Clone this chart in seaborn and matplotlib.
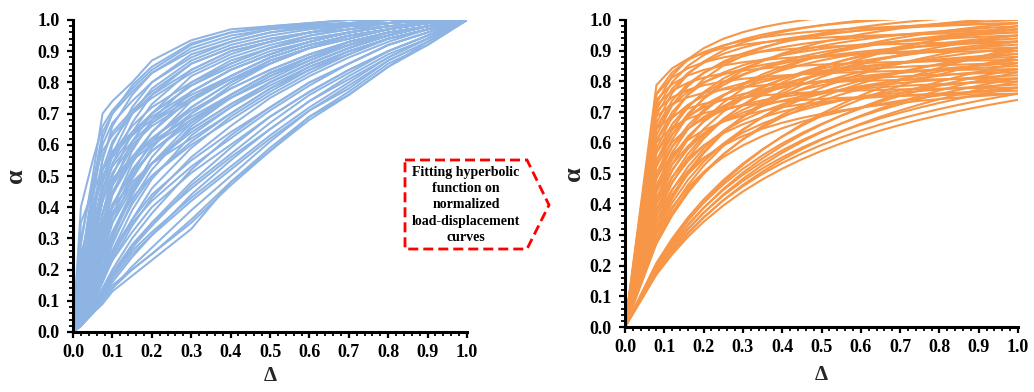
import numpy as np
import pandas as pd
import matplotlib
matplotlib.use("Agg")
import matplotlib.pyplot as plt
from matplotlib.ticker import MultipleLocator, FormatStrFormatter
from matplotlib.patches import Polygon
import seaborn as sns

# Normalized displacement positions at which each measured curve is sampled
delta_grid = [0, .02, .05, .075, .1, .15, .2, .3, .4, .5, .6, .7, .8, .9, 1.0]

# Normalized load-displacement curves (alpha values at delta_grid)
measured_curves = [
    [0, .28, .50, .70, .74, .80, .87, .935, .97, .98, .99, 1, 1, 1, 1],
    [0, .40, .55, .66, .71, .78, .84, .92, .96, .98, .99, 1, 1, 1, 1],
    [0, .18, .42, .62, .70, .79, .85, .925, .96, .975, .985, .99, 1, 1, 1],
    [0, .20, .47, .64, .70, .77, .83, .91, .95, .97, .985, .99, 1, 1, 1],
    [0, .12, .35, .55, .66, .76, .83, .90, .94, .97, .98, .99, 1, 1, 1],
    [0, .25, .38, .50, .56, .64, .70, .79, .86, .91, .95, .97, .99, 1, 1],
    [0, .22, .45, .60, .67, .74, .80, .88, .93, .96, .98, .99, .99, 1, 1],
    [0, .10, .30, .48, .60, .72, .80, .89, .93, .96, .975, .985, .99, 1, 1],
    [0, .09, .28, .45, .57, .70, .78, .87, .92, .95, .97, .98, .99, 1, 1],
    [0, .15, .38, .56, .64, .71, .77, .86, .91, .94, .96, .98, .99, 1, 1],
    [0, .14, .36, .52, .61, .70, .76, .84, .90, .93, .96, .98, .99, 1, 1],
    [0, .08, .26, .42, .54, .67, .76, .86, .91, .94, .96, .98, .99, 1, 1],
    [0, .30, .48, .58, .63, .70, .75, .83, .89, .93, .96, .98, .99, 1, 1],
    [0, .06, .22, .38, .50, .64, .73, .84, .90, .93, .96, .97, .99, .995, 1],
    [0, .05, .20, .35, .47, .61, .70, .82, .88, .92, .95, .97, .98, .99, 1],
    [0, .12, .32, .48, .57, .66, .72, .80, .86, .91, .94, .96, .98, .99, 1],
    [0, .11, .30, .45, .54, .63, .70, .79, .85, .90, .93, .96, .98, .99, 1],
    [0, .05, .18, .32, .44, .58, .68, .80, .87, .91, .94, .96, .98, .99, 1],
    [0, .20, .40, .52, .58, .64, .69, .77, .84, .89, .93, .96, .98, .99, 1],
    [0, .08, .24, .38, .48, .59, .67, .77, .84, .89, .93, .96, .98, .99, 1],
    [0, .04, .15, .28, .40, .54, .64, .77, .84, .89, .93, .96, .98, .99, 1],
    [0, .07, .21, .35, .45, .56, .64, .75, .82, .88, .92, .95, .97, .99, 1],
    [0, .16, .34, .46, .53, .61, .67, .75, .81, .86, .91, .94, .97, .99, 1],
    [0, .10, .28, .42, .51, .60, .66, .74, .81, .87, .91, .95, .97, .99, 1],
    [0, .04, .14, .26, .37, .51, .61, .74, .82, .88, .92, .95, .97, .99, 1],
    [0, .35, .45, .52, .57, .63, .68, .76, .82, .88, .92, .95, .97, .99, 1],
    [0, .06, .19, .33, .44, .55, .62, .72, .80, .86, .91, .94, .97, .99, 1],
    [0, .04, .13, .24, .35, .49, .59, .72, .80, .87, .91, .95, .97, .99, 1],
    [0, .09, .25, .38, .47, .56, .62, .71, .78, .84, .89, .93, .96, .98, 1],
    [0, .06, .18, .30, .40, .52, .60, .70, .78, .84, .89, .93, .96, .98, 1],
    [0, .03, .11, .21, .31, .45, .56, .70, .79, .86, .91, .94, .97, .99, 1],
    [0, .14, .30, .42, .49, .56, .61, .69, .76, .83, .88, .92, .96, .98, 1],
    [0, .05, .16, .28, .38, .50, .58, .68, .76, .83, .88, .93, .96, .98, 1],
    [0, .03, .10, .20, .30, .44, .54, .67, .76, .83, .88, .93, .96, .98, 1],
    [0, .07, .20, .32, .41, .51, .58, .67, .75, .82, .87, .92, .95, .98, 1],
    [0, .03, .10, .19, .28, .42, .52, .66, .75, .82, .88, .92, .96, .98, 1],
    [0, .25, .36, .44, .49, .55, .60, .68, .75, .81, .87, .92, .95, .98, 1],
    [0, .05, .15, .26, .35, .46, .54, .65, .73, .80, .86, .91, .95, .98, 1],
    [0, .04, .13, .23, .32, .45, .54, .65, .73, .80, .86, .91, .95, .98, 1],
    [0, .06, .17, .28, .37, .47, .54, .64, .72, .79, .85, .90, .94, .97, 1],
    [0, .03, .09, .17, .26, .39, .49, .63, .72, .80, .86, .91, .95, .98, 1],
    [0, .08, .21, .32, .40, .48, .54, .62, .70, .78, .84, .90, .94, .97, 1],
    [0, .04, .12, .21, .29, .41, .50, .61, .70, .78, .85, .90, .94, .97, 1],
    [0, .05, .14, .24, .32, .43, .50, .60, .68, .76, .83, .89, .94, .97, 1],
    [0, .03, .09, .16, .24, .36, .46, .59, .69, .77, .84, .89, .94, .97, 1],
    [0, .03, .09, .16, .23, .34, .43, .56, .66, .75, .82, .88, .93, .97, 1],
    [0, .04, .11, .19, .26, .36, .44, .55, .64, .72, .80, .86, .92, .96, 1],
    [0, .04, .10, .18, .25, .35, .42, .53, .62, .71, .79, .86, .92, .96, 1],
    [0, .02, .08, .14, .20, .30, .38, .52, .63, .72, .80, .86, .92, .96, 1],
    [0, .03, .10, .17, .23, .32, .40, .51, .60, .69, .77, .84, .90, .95, 1],
    [0, .02, .07, .12, .18, .27, .35, .48, .59, .69, .77, .84, .90, .95, 1],
    [0, .02, .08, .13, .18, .27, .34, .47, .57, .67, .76, .83, .90, .95, 1],
    [0, .03, .08, .14, .19, .28, .35, .46, .56, .65, .74, .82, .89, .94, 1],
    [0, .02, .07, .11, .16, .24, .31, .44, .55, .65, .74, .81, .88, .94, 1],
    [0, .03, .08, .13, .18, .26, .32, .43, .53, .63, .72, .80, .88, .94, 1],
    [0, .02, .07, .12, .17, .25, .31, .42, .52, .62, .71, .79, .87, .93, 1],
    [0, .02, .06, .10, .14, .21, .27, .39, .50, .61, .71, .78, .87, .93, 1],
    [0, .02, .06, .10, .14, .20, .25, .36, .48, .59, .69, .77, .86, .92, 1],
    [0, .02, .06, .09, .13, .18, .23, .33, .48, .58, .68, .76, .85, .92, 1],
    [0, .03, .07, .11, .15, .20, .25, .35, .47, .58, .69, .76, .85, .93, 1],
]

# Hyperbolic fits alpha = delta / (a + b*delta), described by the fitted
# value at delta = 0.1 and at delta = 1.0
fit_alpha_01 = [
    0.78, 0.80, 0.76, 0.82, 0.74, 0.79, 0.72, 0.77, 0.70, 0.75,
    0.68, 0.73, 0.66, 0.71, 0.64, 0.69, 0.62, 0.67, 0.60, 0.65,
    0.58, 0.63, 0.56, 0.61, 0.54, 0.59, 0.52, 0.57, 0.50, 0.55,
    0.48, 0.53, 0.46, 0.51, 0.44, 0.49, 0.42, 0.47, 0.40, 0.45,
    0.38, 0.43, 0.36, 0.41, 0.34, 0.39, 0.33, 0.37, 0.32, 0.35,
    0.25, 0.245, 0.24, 0.235, 0.23, 0.225, 0.22, 0.215, 0.21, 0.205,
]
fit_alpha_1 = [
    1.045, 0.99, 1.02, 0.96, 0.99, 0.93, 1.03, 0.90, 0.97, 0.87,
    1.00, 0.84, 0.95, 0.81, 1.02, 0.91, 0.93, 0.78, 0.98, 0.86,
    0.96, 0.76, 1.01, 0.83, 0.94, 0.88, 0.97, 0.80, 0.92, 0.85,
    0.99, 0.77, 0.95, 0.89, 0.93, 0.82, 0.97, 0.86, 0.91, 0.79,
    0.95, 0.84, 0.89, 0.76, 0.93, 0.81, 0.87, 0.98, 0.90, 0.78,
    0.88, 0.84, 0.91, 0.81, 0.86, 0.78, 0.83, 0.76, 0.80, 0.74,
]

# Displacements at which the fitted functions are evaluated
fit_delta = [0.0, 0.08, 0.12, 0.16, 0.2, 0.25, 0.3, 0.35, 0.4, 0.45,
             0.5, 0.55, 0.6, 0.65, 0.7, 0.75, 0.8, 0.85, 0.9, 0.95, 1.0]

axis_ticks = [0.0, 0.1, 0.2, 0.3, 0.4, 0.5, 0.6, 0.7, 0.8, 0.9, 1.0]
box_text = "Fitting hyperbolic\nfunction on\nnormalized\nload-displacement\ncurves"

BLUE = "#8EB4E3"
ORANGE = "#F79646"

sns.set_theme(style="white")
plt.rcParams["font.family"] = ["Liberation Serif", "DejaVu Serif"]
plt.rcParams["font.weight"] = "bold"
plt.rcParams["axes.labelweight"] = "bold"

# Long-form tables for seaborn
rows = []
for i, curve in enumerate(measured_curves):
    for d, a in zip(delta_grid, curve):
        rows.append((i, d, a))
measured_df = pd.DataFrame(rows, columns=["curve", "delta", "alpha"])

d_eval = np.asarray(fit_delta)
rows = []
for i, (p, q) in enumerate(zip(fit_alpha_01, fit_alpha_1)):
    b = (1.0 / q - 0.1 / p) / 0.9
    a = 1.0 / q - b
    alpha = d_eval / (a + b * d_eval)
    for d, v in zip(d_eval, alpha):
        rows.append((i, d, v))
fit_df = pd.DataFrame(rows, columns=["curve", "delta", "alpha"])

fig = plt.figure(figsize=(10.34, 3.92), dpi=100)
ax1 = fig.add_axes([73 / 1034, 1 - 332 / 392, 394 / 1034, 312 / 392])
ax2 = fig.add_axes([625 / 1034, 1 - 327 / 392, 393 / 1034, 307 / 392])

sns.lineplot(data=measured_df, x="delta", y="alpha", units="curve",
             estimator=None, sort=False, color=BLUE, lw=1.45, ax=ax1)
sns.lineplot(data=fit_df, x="delta", y="alpha", units="curve",
             estimator=None, sort=False, color=ORANGE, lw=1.5, ax=ax2)

for ax in (ax1, ax2):
    ax.set_xlim(0, 1)
    ax.set_ylim(0, 1)
    ax.set_xticks(axis_ticks)
    ax.set_yticks(axis_ticks)
    ax.xaxis.set_major_formatter(FormatStrFormatter("%.1f"))
    ax.yaxis.set_major_formatter(FormatStrFormatter("%.1f"))
    ax.xaxis.set_minor_locator(MultipleLocator(0.02))
    ax.yaxis.set_minor_locator(MultipleLocator(0.02))
    for side in ("top", "right"):
        ax.spines[side].set_visible(False)
    for side in ("left", "bottom"):
        ax.spines[side].set_color("black")
        ax.spines[side].set_linewidth(2.2)
    ax.tick_params(which="major", direction="out", length=4.5, width=1.6,
                   color="black", labelsize=13, labelcolor="black",
                   bottom=True, left=True)
    ax.tick_params(which="minor", direction="out", length=3, width=1.3,
                   color="black", bottom=True, left=True)
    ax.tick_params(axis="x", pad=4)
    ax.tick_params(axis="y", pad=5)
    for lbl in ax.get_xticklabels() + ax.get_yticklabels():
        lbl.set_fontweight("bold")
    ax.set_xlabel("Δ", fontsize=15, fontweight="bold")
    ax.set_ylabel("α", fontsize=19, fontweight="bold", rotation=90)
    ax.xaxis.label.set_va("center")
    ax.yaxis.label.set_va("center")
    ax.grid(False)

ax1.xaxis.set_label_coords(0.5, -0.140)
ax1.yaxis.set_label_coords(-0.147, 0.5)
ax2.xaxis.set_label_coords(0.5, -0.155)
ax2.yaxis.set_label_coords(-0.130, 0.5)

# Dashed arrow-shaped box between the panels
pts_px = [(405, 160), (527, 160), (549, 205), (527, 249), (405, 249)]
pts = [(x / 1034, 1 - y / 392) for x, y in pts_px]
fig.patches.append(Polygon(pts, closed=True, fill=False, edgecolor="#FF0000",
                           linewidth=2, linestyle=(0, (3.6, 1.8)),
                           transform=fig.transFigure, figure=fig))
fig.text(466 / 1034, 1 - 205 / 392, box_text, ha="center", va="center",
         fontsize=10, fontweight="bold", linespacing=1.33, color="black")

fig.savefig("out.png", dpi=100, facecolor="white")
